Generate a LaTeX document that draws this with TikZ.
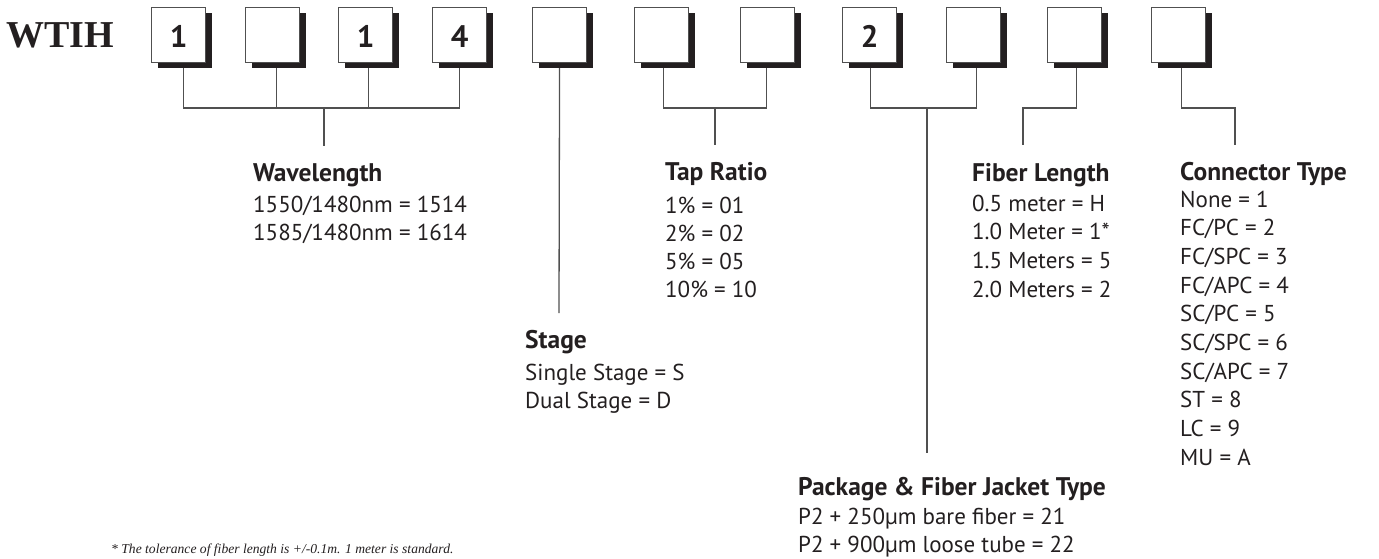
\documentclass[tikz,border=0pt]{standalone}
\usepackage{fontspec}
\newfontfamily\mysans{PT Sans}
\newfontfamily\myserif{Liberation Serif}
\usetikzlibrary{calc,shadows}
\definecolor{ink}{HTML}{231F20}
\definecolor{rule}{HTML}{505050}
\tikzset{
  box/.style={draw=rule, line width=1.1pt, fill=white, minimum width=54pt, minimum height=55pt,
    inner sep=0pt, anchor=north west, general shadow={fill=ink, shadow xshift=6pt, shadow yshift=-5pt}},
  ln/.style={draw=rule, line width=1.3pt},
  hd/.style={anchor=base west, inner sep=0pt, text=ink, font=\mysans\bfseries\fontsize{25.5}{30}\selectfont},
  bd/.style={anchor=base west, inner sep=0pt, text=ink, font=\mysans\fontsize{23}{27}\selectfont},
  dig/.style={anchor=base, inner sep=0pt, text=ink, font=\mysans\bfseries\fontsize{31}{35}\selectfont},
  logo/.style={anchor=base west, inner sep=0pt, text=ink, font=\myserif\bfseries\fontsize{38}{42}\selectfont},
  foot/.style={anchor=base west, inner sep=0pt, text=ink, font=\myserif\itshape\fontsize{13.6}{16}\selectfont},
}
\begin{document}
\begin{tikzpicture}[x=1pt, y=-1pt]
\useasboundingbox (0,0) rectangle (1379,558);
\node[logo] (wtih) at (6,47) {WTIH};
% boxes
\node[box] (b1) at (151,7) {};
\node[box] (b2) at (245,7) {};
\node[box] (b3) at (338,7) {};
\node[box] (b4) at (432,7) {};
\node[box] (b5) at (532,7) {};
\node[box] (b6) at (634,7) {};
\node[box] (b7) at (740,7) {};
\node[box] (b8) at (842,7) {};
\node[box] (b9) at (946,7) {};
\node[box] (b10) at (1047,7) {};
\node[box] (b11) at (1151,7) {};
\node[dig] (n1) at ($(b1.north)+(0,40.5)$) {1};
\node[dig] (n3) at ($(b3.north)+(0,40.5)$) {1};
\node[dig] (n4) at ($(b4.north)+(0,40.5)$) {4};
\node[dig] (n8) at ($(b8.north)+(0,40.5)$) {2};
% drop points
\coordinate (d1) at ($(b1.south)+(5,5)$);
\coordinate (d2) at ($(b2.south)+(4,5)$);
\coordinate (d3) at ($(b3.south)+(3,5)$);
\coordinate (d4) at ($(b4.south)+(0,5)$);
\coordinate (d5) at ($(b5.south)+(0,5)$);
\coordinate (d6) at ($(b6.south)+(2,5)$);
\coordinate (d7) at ($(b7.south)+(-1,5)$);
\coordinate (d8) at ($(b8.south)+(1,5)$);
\coordinate (d9) at ($(b9.south)+(3,5)$);
\coordinate (d10) at ($(b10.south)+(2,5)$);
\coordinate (d11) at ($(b11.south)+(3,5)$);
% free ends
\coordinate (wlj) at (324,107); \coordinate (wle) at (324,146);
\coordinate (ste) at (559,313);
\coordinate (tpj) at (715,107); \coordinate (tpe) at (715,145);
\coordinate (pkj) at (927,107); \coordinate (pke) at (927,453);
\coordinate (fle) at (1023,145);
\coordinate (cte) at (1235,145);
% connectors
\draw[ln] (d1) -- ++(0,40) -| (d4);
\draw[ln] (d2) -- ++(0,40);
\draw[ln] (d3) -- ++(0,40);
\draw[ln] (wlj) -- (wle);
\draw[ln] (d5) -- (ste);
\draw[ln] (d6) -- ++(0,40) -| (d7);
\draw[ln] (tpj) -- (tpe);
\draw[ln] (d8) -- ++(0,40) -| (d9);
\draw[ln] (pkj) -- (pke);
\draw[ln] (d10) -- ++(0,40) -| (fle);
\draw[ln] (d11) -- ++(0,40) -| (cte);
% texts
\node[hd] (wlh) at (253,181) {Wavelength};
\foreach \t [count=\i from 0] in {1550/1480nm = 1514, 1585/1480nm = 1614}
  \node[bd] (wl\i) at (253,212+28.5*\i) {\t};
\node[hd] (sth) at (525,348) {Stage};
\foreach \t [count=\i from 0] in {Single Stage = S, Dual Stage = D}
  \node[bd] (st\i) at (525,380+28.8*\i) {\t};
\node[hd] (tph) at (665,180) {Tap Ratio};
\foreach \t [count=\i from 0] in {1\% = 01, 2\% = 02, 5\% = 05, 10\% = 10}
  \node[bd] (tp\i) at (665,213+28.1*\i) {\t};
\node[hd] (pkh) at (798,495) {Package \& Fiber Jacket Type};
\foreach \t [count=\i from 0] in {P2 + 250µm bare fiber = 21, P2 + 900µm loose tube = 22}
  \node[bd] (pk\i) at (798,524+28.5*\i) {\t};
\node[hd] (flh) at (972,181) {Fiber Length};
\foreach \t [count=\i from 0] in {0.5 meter = H, 1.0 Meter = 1*, 1.5 Meters = 5, 2.0 Meters = 2}
  \node[bd] (fl\i) at (972,211+28.7*\i) {\t};
\node[hd] (cth) at (1180,180) {Connector Type};
\foreach \t [count=\i from 0] in {None = 1, FC/PC = 2, FC/SPC = 3, FC/APC = 4, SC/PC = 5, SC/SPC = 6, SC/APC = 7, ST = 8, LC = 9, MU = A}
  \node[bd] (ct\i) at (1180,207+28.7*\i) {\t};
\node[foot] (fn) at (111,553) {* The tolerance of fiber length is +/-0.1m. 1 meter is standard.};
\end{tikzpicture}
\end{document}
